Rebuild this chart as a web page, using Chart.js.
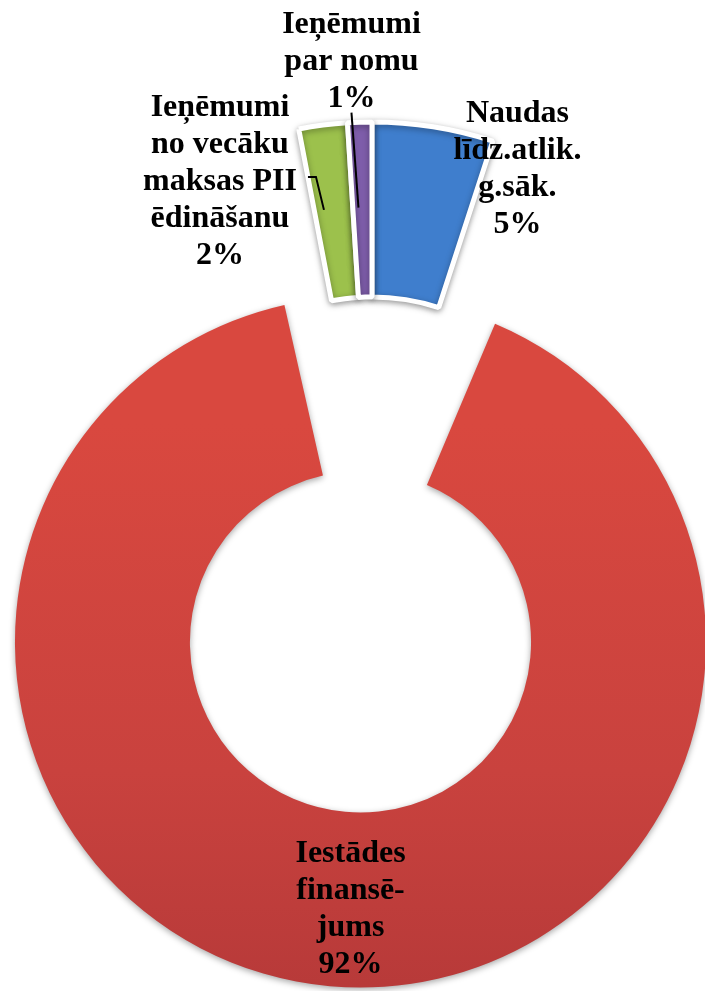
<!DOCTYPE html>
<html>
<head>
<meta charset="utf-8">
<script src="https://cdn.jsdelivr.net/npm/chart.js@4.4.0/dist/chart.umd.min.js"></script>
<style>
    html, body { margin: 0; padding: 0; background: #ffffff; }
    canvas { display: block; }
</style>
</head>
<body>
<canvas id="chart-income" width="705" height="991"></canvas>
<script>
//----------------------------------------------------------- DATI -----------------------------------------------------------
const categories = ['Naudas līdz.atlik. g.sāk.', 'Iestādes finansējums', 'Ieņēmumi no vecāku maksas PII ēdināšanu', 'Ieņēmumi par nomu'];
const labelLines = [
    ['Naudas', 'līdz.atlik.', 'g.sāk.'],
    ['Iestādes', 'finansē-', 'jums'],
    ['Ieņēmumi', 'no vecāku', 'maksas PII', 'ēdināšanu'],
    ['Ieņēmumi', 'par nomu']
];
const values = [5, 92, 2, 1];          // %
const colors = ['#3f7ecd', '#c9423e', '#9cc14c', '#7e5daa'];
const bigSlice = 1;                      // the big slice sits in the inner ring and is pushed down

// label placement (shift from slice middle, px) and leader lines
const labelShift = [[98, -47], [13, 7], [-114, -33], [-11, -151]];
const lineHeight = 37;
const TRANSPARENT = 'rgba(0,0,0,0)';

//-------------------------------------------------------- helpers -----------------------------------------------------------
// middle point of an arc, incl. the offset shift Chart.js applies when drawing
function arcMiddle(arc) {
    const p = arc.getProps(['x', 'y', 'startAngle', 'endAngle', 'innerRadius', 'outerRadius']);
    const shift = (arc.options.offset || 0) / 4;
    const half = (p.startAngle + p.endAngle) / 2;
    const circ = p.endAngle - p.startAngle;
    const grow = shift * (1 - Math.sin(Math.min(Math.PI, circ)));
    const r = shift + grow + (p.innerRadius + p.outerRadius) / 2;
    return { x: p.x + Math.cos(half) * r, y: p.y + Math.sin(half) * r };
}

const sliceLabels = {
    id: 'sliceLabels',
    beforeDatasetsDraw(chart) {
        const c = chart.ctx;
        c.save();
        c.shadowColor = 'rgba(0,0,0,0.35)';
        c.shadowBlur = 6;
        c.shadowOffsetY = 2;
    },
    afterDatasetsDraw(chart) {
        const c = chart.ctx;
        c.restore();

        const total = values.reduce((a, b) => a + b, 0);
        c.save();
        c.font = 'bold 32px "Liberation Serif", "Times New Roman", serif';
        c.fillStyle = '#000000';
        c.textAlign = 'center';
        c.textBaseline = 'alphabetic';

        values.forEach((v, i) => {
            const ds = i === bigSlice ? 1 : 0;
            const arc = chart.getDatasetMeta(ds).data[i];
            const mid = arcMiddle(arc);
            const lines = labelLines[i].concat([Math.round(v / total * 100) + '%']);
            const cx = mid.x + labelShift[i][0];
            const cy = mid.y + labelShift[i][1];
            const first = cy - (lines.length - 1) * lineHeight / 2 + 11;
            lines.forEach((t, k) => c.fillText(t, cx, first + k * lineHeight));

            // leader lines for the thin slices
            c.strokeStyle = '#000000';
            c.lineWidth = 2;
            if (i === 2) {
                c.beginPath();
                c.moveTo(cx + 88, cy - 2);
                c.lineTo(cx + 96, cy - 2);
                c.lineTo(mid.x - 10, mid.y - 2);
                c.stroke();
            }
            if (i === 3) {
                c.beginPath();
                c.moveTo(cx, first + (lines.length - 1) * lineHeight + 6);
                c.lineTo(mid.x - 4, mid.y - 2);
                c.stroke();
            }
        });
        c.restore();
    }
};

//--------------------------------------------------------- CHART ------------------------------------------------------------
const smallColors = colors.map((col, i) => i === bigSlice ? TRANSPARENT : col);

var ctx_income = document.getElementById('chart-income').getContext('2d');
var chart_income = new Chart(ctx_income, {
    type: 'doughnut',
    data: {
        labels: categories,
        datasets: [{
            // outer ring: the small slices, not exploded
            data: values,
            backgroundColor: smallColors,
            borderColor: '#ffffff',
            borderWidth: values.map((v, i) => i === bigSlice ? 0 : 5),
            offset: 0,
            hoverOffset: 0
        }, {
            // inner ring: the big slice, exploded downwards
            data: values,
            rotation: 1.5,
            backgroundColor: function (context) {
                if (context.dataIndex !== bigSlice) return TRANSPARENT;
                const g = context.chart.ctx.createLinearGradient(0, 295, 0, 990);
                g.addColorStop(0, '#d9483f');
                g.addColorStop(0.5, '#c9423e');
                g.addColorStop(1, '#ad3536');
                return g;
            },
            borderWidth: 0,
            offset: values.map((v, i) => i === bigSlice ? 518 : 0),
            hoverOffset: 0
        }]
    },
    options: {
        responsive: false,
        animation: false,
        events: [],
        radius: 391,
        cutout: '10.5%',
        layout: {
            padding: { left: 39, top: 35, right: 0, bottom: 0 }
        },
        plugins: {
            legend: { display: false },
            tooltip: { enabled: false }
        }
    },
    plugins: [sliceLabels]
});
</script>
</body>
</html>
